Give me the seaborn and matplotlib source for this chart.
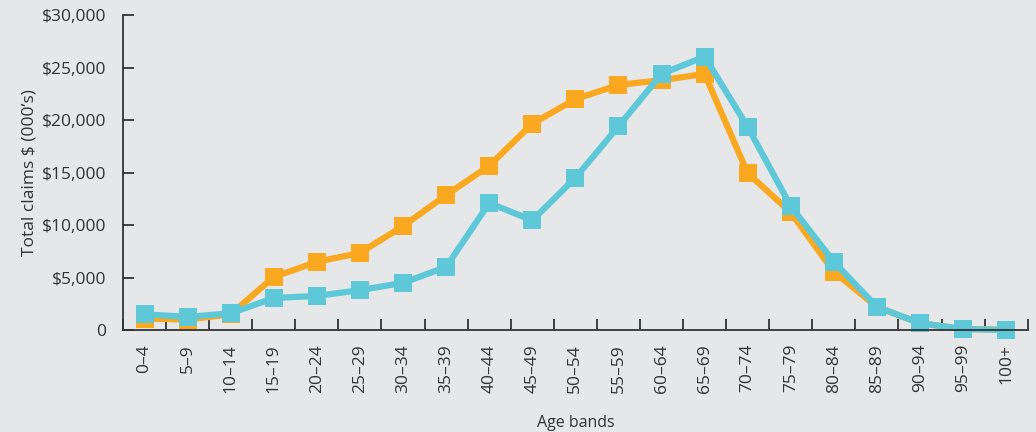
import numpy as np
import pandas as pd
import matplotlib
matplotlib.use("Agg")
from matplotlib import pyplot as plt
from matplotlib.ticker import FuncFormatter, FixedLocator
import seaborn as sns

# age bands and claim totals ($000s)
bands = ["0–4", "5–9", "10–14", "15–19", "20–24", "25–29", "30–34", "35–39",
         "40–44", "45–49", "50–54", "55–59", "60–64", "65–69", "70–74",
         "75–79", "80–84", "85–89", "90–94", "95–99", "100+"]
orange_vals = [1100, 1000, 1500, 5050, 6500, 7350, 9900, 12850, 15650, 19650,
               22000, 23350, 23800, 24400, 14950, 11200, 5550, 2200, 650, 100, 30]
cyan_vals = [1500, 1250, 1600, 3050, 3250, 3800, 4500, 6000, 12100, 10450,
             14500, 19400, 24400, 26050, 19350, 11800, 6500, 2200, 650, 100, 0]

bg = "#E6E7E8"
palette = {"A": "#F9A81F", "B": "#5EC8D8"}

df = pd.DataFrame({
    "pos": list(range(len(bands))) * 2,
    "value": orange_vals + cyan_vals,
    "series": ["A"] * len(bands) + ["B"] * len(bands),
})

sns.set_style("ticks")
plt.rcParams["font.family"] = ["Open Sans", "DejaVu Sans"]

fig = plt.figure(figsize=(10.36, 4.32), dpi=100, facecolor=bg)
ax = fig.add_axes([0.1187, 0.236, 0.8733, 0.729])
ax.set_facecolor(bg)

sns.lineplot(data=df, x="pos", y="value", hue="series", palette=palette,
             marker="s", markersize=13, markeredgewidth=0, linewidth=4.5,
             dashes=False, legend=False, ax=ax)

ax.set_xlim(-0.5, len(bands) - 0.5)
ax.set_ylim(0, 30000)
ax.set_yticks(range(0, 30001, 5000))
ax.yaxis.set_major_formatter(FuncFormatter(lambda v, p: "0" if v == 0 else f"${v:,.0f}"))

ax.set_xticks(range(len(bands)))
ax.set_xticklabels(bands, rotation=90)
ax.xaxis.set_minor_locator(FixedLocator(np.arange(-0.5, len(bands), 1.0)))
ax.tick_params(axis="x", which="major", length=0, pad=10, labelsize=12.5, labelcolor="#333333")
ax.tick_params(axis="x", which="minor", direction="in", length=8, width=1.3, color="#333333")
ax.tick_params(axis="y", direction="in", length=8, width=1.3, color="#333333",
               labelsize=12.5, labelcolor="#333333", pad=12)

for s in ["top", "right"]:
    ax.spines[s].set_visible(False)
for s in ["left", "bottom"]:
    ax.spines[s].set_color("#333333")
    ax.spines[s].set_linewidth(1.3)

ax.set_xlabel("Age bands", fontsize=11.5, color="#333333", labelpad=16)
ax.set_ylabel("Total claims $ (000’s)", fontsize=12.5, color="#333333", labelpad=3)
for line in ax.lines:
    line.set_clip_on(False)

fig.savefig("out.png", dpi=100, facecolor=bg)
